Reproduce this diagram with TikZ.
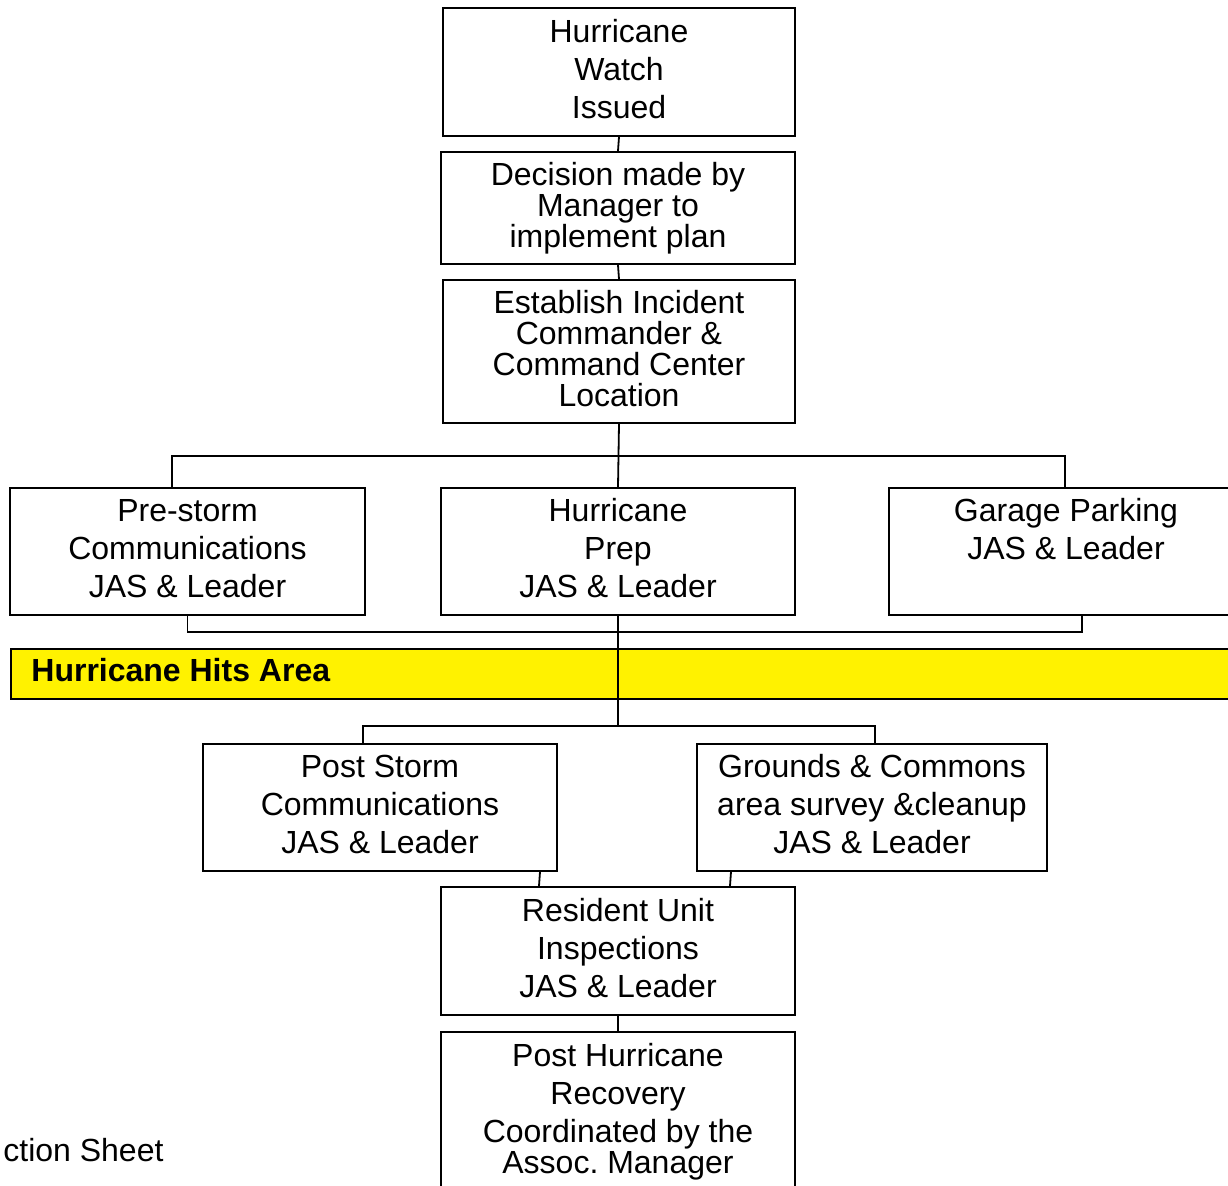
\documentclass[tikz,border=0pt]{standalone}
\usepackage{fontspec}
\setmainfont{Liberation Sans}
\usetikzlibrary{positioning}
\frenchspacing

\tikzset{
  box/.style={draw, line width=1pt, align=center, inner sep=0pt,
    minimum width=177pt, minimum height=63.5pt, text depth=3.5pt,
    font=\fontsize{16}{19}\selectfont},
  tight/.style={font=\fontsize{16}{15.5}\selectfont},
  link/.style={line width=0.9pt}
}

\begin{document}
\begin{tikzpicture}[x=0.5pt,y=-0.5pt]
    \useasboundingbox (0,0) rectangle (1228,1186);
    \clip (0,0) rectangle (1228,1186);

    \node[box, minimum width=176pt, minimum height=64pt] (watch) at (619,72) {Hurricane\\Watch\\Issued};
    \node[box, tight, minimum height=56pt] (decision) at (618,208) {Decision made by\\Manager to\\implement plan};
    \node[box, tight, minimum width=176pt, minimum height=71.5pt] (establish) at (619,351.5) {Establish Incident\\Commander \&\\Command Center\\Location};

    \node[box, minimum width=177.5pt] (prestorm) at (187.5,551.5) {Pre-storm\\Communications\\JAS \& Leader};
    \node[box] (prep) at (618,551.5) {Hurricane\\Prep\\JAS \& Leader};
    \node[box] (garage) at (1066,551.5) {Garage Parking\\JAS \& Leader\\\mbox{}};

    \node[draw, line width=1pt, fill=yellow, anchor=north west, inner sep=0pt,
      minimum width=620pt, minimum height=25pt] (band) at (10,648) {};
    \node[anchor=west, inner sep=0pt, font=\bfseries\fontsize{16}{19}\selectfont] (hits) at (31,670) {Hurricane Hits Area};

    \node[box] (poststorm) at (380,807.5) {Post Storm\\Communications\\JAS \& Leader};
    \node[box, minimum width=175pt] (grounds) at (872,807.5) {Grounds \& Commons\\area survey \&cleanup\\JAS \& Leader};
    \node[box, minimum height=64pt] (resident) at (618,951) {Resident Unit\\Inspections\\JAS \& Leader};
    \node[box, anchor=north, minimum height=0pt, text depth=, inner ysep=5.75pt] (recovery) at (618,1031)
      {Post Hurricane\\Recovery\\Coordinated by the\\[-3.5pt]Assoc. Manager\\[4pt]\mbox{}};

    \node[anchor=west, inner sep=0pt, font=\fontsize{16}{19}\selectfont] (sheet) at (3,1150) {ction Sheet};

    \coordinate (topbus) at (618,456);
    \coordinate (lowbus) at (618,632);
    \coordinate (postbus) at (618,726);

    \draw[link] (watch.south) -- (decision.north);
    \draw[link] (decision.south) -- (establish.north);
    \draw[link] (establish.south) -- (prep.north);
    \draw[link] ([xshift=-7.75pt]prestorm.north) |- (topbus) -| ([xshift=-0.5pt]garage.north);
    \draw[link] (prestorm.south) |- (lowbus) -| ([xshift=8pt]garage.south);
    \draw[link] (prep.south) -- (postbus);
    \draw[link] ([xshift=-8.5pt]poststorm.north) |- (postbus) -| ([xshift=1.5pt]grounds.north);
    \draw[link] ([xshift=80pt]poststorm.south) -- ([xshift=-39.5pt]resident.north);
    \draw[link] ([xshift=-70.5pt]grounds.south) -- ([xshift=56pt]resident.north);
    \draw[link] (resident.south) -- (recovery.north);
\end{tikzpicture}
\end{document}
